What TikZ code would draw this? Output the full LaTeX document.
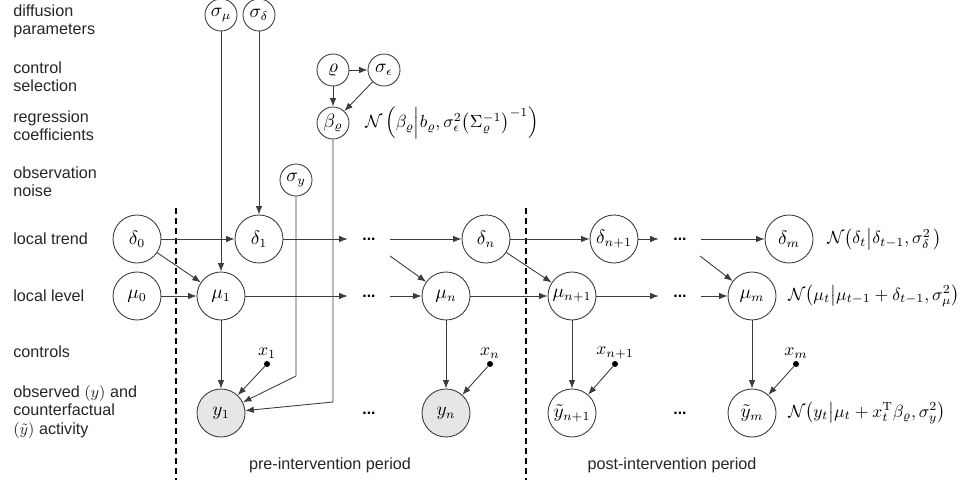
\documentclass[tikz,border=0pt]{standalone}
\usepackage{amsmath}
\usepackage{fontspec}
\newfontfamily\arialfont{Liberation Sans}
\usepackage{tikz}
\usetikzlibrary{positioning,arrows.meta,calc}
\definecolor{edgegray}{HTML}{3C3C3C}
\definecolor{obsfill}{HTML}{E6E6E6}
\definecolor{txtgray}{HTML}{262626}
\tikzset{
  var/.style={circle,draw=edgegray,line width=.5pt,fill=white,minimum size=9.6mm,inner sep=0pt,
              font=\fontsize{10.5}{12}\selectfont},
  hyp/.style={var,minimum size=6.4mm},
  obs/.style={var,fill=obsfill},
  ctl/.style={circle,fill=black,inner sep=0pt,minimum size=1.2mm},
  ell/.style={inner sep=0pt,minimum width=8.4mm,minimum height=4mm,
              font=\arialfont\bfseries\fontsize{9}{10}\selectfont},
  fl/.style={-{Latex[length=1.7mm,width=1.3mm]},draw=edgegray,line width=.5pt},
  cut/.style={draw=black,line width=.8pt,dash pattern=on 1.2mm off .8mm},
  rowlbl/.style={anchor=west,align=left,inner sep=0pt,text=txtgray,font=\arialfont\fontsize{9.2}{10.4}\selectfont},
  per/.style={text=txtgray,font=\arialfont\fontsize{9.2}{10.4}\selectfont},
  dist/.style={anchor=west,inner sep=0pt,font=\fontsize{9.6}{11}\selectfont}
}
\begin{document}
\begin{tikzpicture}[x=0.2mm,y=-0.2mm]
\useasboundingbox (0,0) rectangle (966,480);
% row labels
\node[rowlbl] (l1) at (13,21) {diffusion\\parameters};
\node[rowlbl] (l2) at (13,77) {control\\selection};
\node[rowlbl] (l3) at (13,126) {regression\\coefficients};
\node[rowlbl] (l4) at (13,182) {observation\\noise};
\node[rowlbl] (l5) at (13,239) {local trend};
\node[rowlbl] (l6) at (13,296) {local level};
\node[rowlbl] (l7) at (13,352) {controls};
\node[rowlbl] (l8) at (13,412) {observed $(y)$ and\\counterfactual\\$(\tilde{y})$ activity};

% period separators
\draw[cut] (176,208) -- (176,480);
\draw[cut] (526,208) -- (526,480);
\node[per] (pre) at (330,465) {pre-intervention period};
\node[per] (post) at (672,465) {post-intervention period};

% hyperparameters
\node[hyp] (smu) at (221,15) {$\sigma_\mu$};
\node[hyp] (sdel) at (259,15) {$\sigma_\delta$};
\node[hyp] (rho) at (333,70) {$\varrho$};
\node[hyp] (seps) at (384,70) {$\sigma_\epsilon$};
\node[hyp] (beta) at (333,123) {$\beta_\varrho$};
\node[hyp] (sy) at (296,180) {$\sigma_y$};

% local trend
\node[var] (d0) at (137,239) {$\delta_0$};
\node[var] (d1) at (259,239) {$\delta_1$};
\node[ell] (dd1) at (369,239) {...};
\node[var] (dn) at (486,239) {$\delta_n$};
\node[var] (dn1) at (614,239) {$\delta_{n+1}$};
\node[ell] (dd2) at (680,239) {...};
\node[var] (dm) at (789,239) {$\delta_m$};

% local level
\node[var] (m0) at (137,296) {$\mu_0$};
\node[var] (m1) at (221,296) {$\mu_1$};
\node[ell] (md1) at (369,296) {...};
\node[var] (mn) at (446,296) {$\mu_n$};
\node[var] (mn1) at (572,296) {$\mu_{n+1}$};
\node[ell] (md2) at (680,296) {...};
\node[var] (mm) at (752,296) {$\mu_m$};

% controls
\node[ctl,label={[inner sep=1pt]above:$x_1$}] (x1) at (267,364) {};
\node[ctl,label={[inner sep=1pt]above:$x_n$}] (xn) at (490,364) {};
\node[ctl,label={[inner sep=1pt]above:$x_{n+1}$}] (xn1) at (615,364) {};
\node[ctl,label={[inner sep=1pt]above:$x_m$}] (xm) at (796,364) {};

% observations
\node[obs] (y1) at (221,413) {$y_1$};
\node[ell] (yd1) at (369,413) {...};
\node[obs] (yn) at (446,413) {$y_n$};
\node[var] (yn1) at (572,413) {$\tilde{y}_{n+1}$};
\node[ell] (yd2) at (680,413) {...};
\node[var] (ym) at (752,413) {$\tilde{y}_m$};

% distributions
\node[dist] (fb) at (365,123) {$\mathcal{N}\left(\beta_\varrho\middle|b_\varrho,\sigma_\epsilon^2\bigl(\Sigma_\varrho^{-1}\bigr)^{-1}\right)$};
\node[dist] (fd) at (827,239) {$\mathcal{N}\bigl(\delta_t\big|\delta_{t-1},\sigma_\delta^2\,\bigr)$};
\node[dist] (fm) at (788,296) {$\mathcal{N}\bigl(\mu_t\big|\mu_{t-1}+\delta_{t-1},\sigma_\mu^2\bigr)$};
\node[dist] (fy) at (788,413) {$\mathcal{N}\bigl(y_t\big|\mu_t+x_t^{\mathrm{T}}\beta_\varrho,\sigma_y^2\bigr)$};

\coordinate (k1) at (390,256);
\coordinate (k2) at (700,256);
\coordinate (ky) at (296,376);
\coordinate (kb) at (333,402);

\draw[fl] (smu) -- (smu |- m1.north);
\draw[fl] (sdel) -- (d1);
\draw[fl] (rho) -- (seps);
\draw[fl] (rho) -- (beta);
\draw[fl] (seps) -- (beta);
\draw[fl] (sy) -- (ky) -- (y1);
\draw[fl] (beta) -- (kb) -- (y1);

\draw[fl] (d0) -- (d1);
\draw[fl] (d0) -- (m1);
\draw[fl] (m0) -- (m1);
\draw[fl] (d1) -- (dd1);
\draw[fl] (dd1) -- (dn);
\draw[fl] (m1) -- (md1);
\draw[fl] (md1) -- (mn);
\draw[fl] (k1) -- (mn);
\draw[fl] (dn) -- (dn1);
\draw[fl] (dn) -- (mn1);
\draw[fl] (mn) -- (mn1);
\draw[fl] (dn1) -- (dd2);
\draw[fl] (dd2) -- (dm);
\draw[fl] (mn1) -- (md2);
\draw[fl] (md2) -- (mm);
\draw[fl] (k2) -- (mm);

\draw[fl] (m1) -- (y1);
\draw[fl] (mn) -- (yn);
\draw[fl] (mn1) -- (yn1);
\draw[fl] (mm) -- (ym);
\draw[fl] (x1) -- (y1);
\draw[fl] (xn) -- (yn);
\draw[fl] (xn1) -- (yn1);
\draw[fl] (xm) -- (ym);
\end{tikzpicture}
\end{document}
